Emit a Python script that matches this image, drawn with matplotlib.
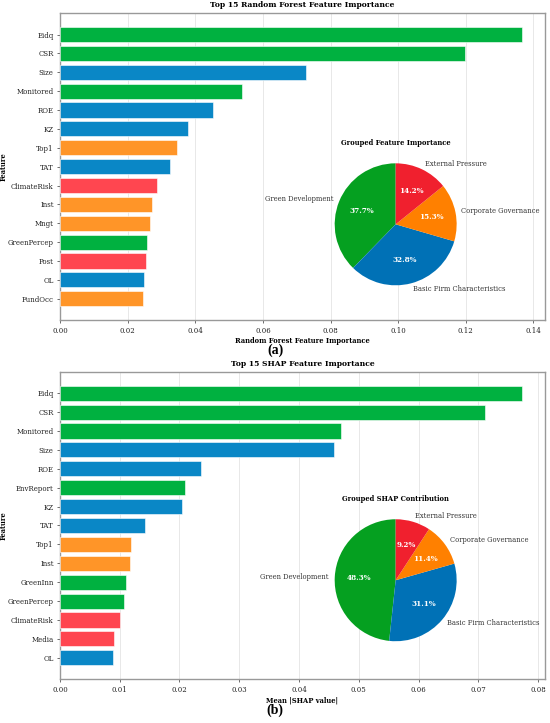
import matplotlib.pyplot as plt
import numpy as np

plt.rcParams['font.family'] = 'DejaVu Serif'

# Random Forest importances (top 15)
rf_features = ['Eidq', 'CSR', 'Size', 'Monitored', 'ROE', 'KZ', 'Top1', 'TAT',
               'ClimateRisk', 'Inst', 'Mngt', 'GreenPercep', 'Post', 'OL', 'FundOcc']
rf_values = [0.1366, 0.1198, 0.0728, 0.0537, 0.0452, 0.0380, 0.0345, 0.0325,
             0.0288, 0.0271, 0.0265, 0.0258, 0.0254, 0.0249, 0.0247]
rf_groups = ['G', 'G', 'B', 'G', 'B', 'B', 'C', 'B', 'E', 'C', 'C', 'G', 'E', 'B', 'C']

# SHAP importances (top 15)
shap_features = ['Eidq', 'CSR', 'Monitored', 'Size', 'ROE', 'EnvReport', 'KZ', 'TAT',
                 'Top1', 'Inst', 'GreenInn', 'GreenPercep', 'ClimateRisk', 'Media', 'OL']
shap_values = [0.0773, 0.0712, 0.0471, 0.0458, 0.0236, 0.0209, 0.0204, 0.0142,
               0.0119, 0.0117, 0.0111, 0.0108, 0.0101, 0.0090, 0.0089]
shap_groups = ['G', 'G', 'G', 'B', 'B', 'G', 'B', 'B', 'C', 'C', 'G', 'G', 'E', 'E', 'B']

# grouped shares
pie_labels = ['Green Development', 'Basic Firm Characteristics',
              'Corporate Governance', 'External Pressure']
pie_keys = ['G', 'B', 'C', 'E']
rf_pie = [37.7, 32.8, 15.3, 14.2]
shap_pie = [48.3, 31.1, 11.4, 9.2]

bar_colors = {'G': '#00b140', 'B': '#0a87c6', 'C': '#ff9528', 'E': '#ff4650'}
pie_colors = {'G': '#05a020', 'B': '#0071b6', 'C': '#ff8000', 'E': '#f0202e'}

fig = plt.figure(figsize=(5.5, 7.23), dpi=100)


def bar_panel(rect, feats, vals, groups, title, xlabel, xticks):
    ax = fig.add_axes(rect)
    y = np.arange(len(feats))
    ax.barh(y, vals, height=0.8, color=[bar_colors[g] for g in groups],
            edgecolor='white', linewidth=0.4, zorder=3)
    ax.set_yticks(y)
    ax.set_yticklabels(feats)
    ax.invert_yaxis()
    ax.set_xticks(xticks)
    ax.tick_params(labelsize=5, colors='#555555', labelcolor='#222222',
                   length=2.5, width=0.6, pad=2)
    ax.grid(axis='x', color='#e8e8e8', linewidth=0.7, zorder=0)
    for s in ax.spines.values():
        s.set_color('#999999')
        s.set_linewidth(1.0)
    ax.set_title(title, fontsize=5.5, fontweight='bold', pad=4)
    ax.set_xlabel(xlabel, fontsize=4.9, fontweight='bold', labelpad=2)
    ax.set_ylabel('Feature', fontsize=4.9, fontweight='bold')
    ax.yaxis.set_label_coords(-0.108, 0.5)
    return ax


def pie_panel(rect, vals, title):
    ax = fig.add_axes(rect)
    ax.pie(vals, labels=pie_labels, colors=[pie_colors[k] for k in pie_keys],
           startangle=90, autopct='%1.1f%%', pctdistance=0.6, labeldistance=1.1,
           textprops={'fontsize': 4.9, 'color': '#333333'})
    for t in ax.texts:
        if t.get_text().endswith('%'):
            t.set_color('white')
            t.set_fontweight('bold')
            t.set_fontsize(5.2)
    ax.set_xlim(-1, 1)
    ax.set_ylim(-1, 1)
    ax.set_title(title, fontsize=4.9, fontweight='bold', pad=13)


bar_panel([0.109, 0.557, 0.882, 0.425], rf_features, rf_values, rf_groups,
          'Top 15 Random Forest Feature Importance',
          'Random Forest Feature Importance', np.arange(0, 0.141, 0.02))
pie_panel([0.6085, 0.6054, 0.2218, 0.1687], rf_pie, 'Grouped Feature Importance')

bar_panel([0.109, 0.0604, 0.882, 0.4256], shap_features, shap_values, shap_groups,
          'Top 15 SHAP Feature Importance',
          'Mean |SHAP value|', np.arange(0, 0.081, 0.01))
pie_panel([0.6085, 0.1131, 0.2218, 0.1687], shap_pie, 'Grouped SHAP Contribution')

fig.text(0.5, 0.515, '(a)', fontsize=10, fontweight='bold',
         family='Liberation Serif', ha='center', va='center')
fig.text(0.5, 0.017, '(b)', fontsize=10, fontweight='bold',
         family='Liberation Serif', ha='center', va='center')

fig.savefig('out.png', dpi=100)
